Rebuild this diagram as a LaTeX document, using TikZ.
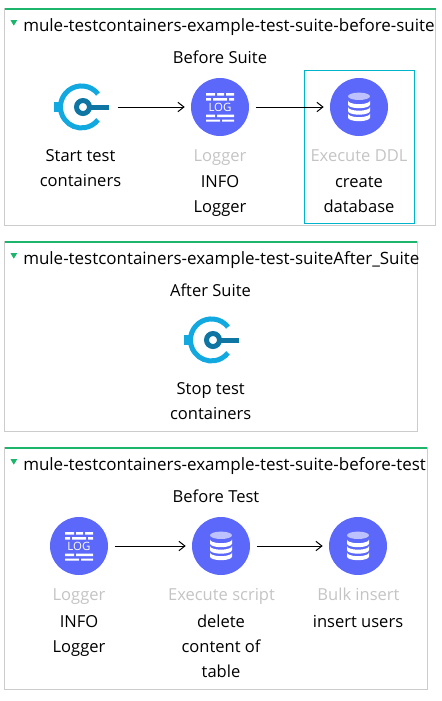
\documentclass[tikz,border=0pt]{standalone}
\usepackage{fontspec}
\setmainfont{Open Sans}
\usetikzlibrary{arrows.meta}
\definecolor{flowGreen}{HTML}{1DB56C}
\definecolor{flowGrey}{HTML}{CCCCCC}
\definecolor{flowCyan}{HTML}{00B4CC}
\definecolor{opBlue}{HTML}{5C68FA}
\definecolor{tcLight}{HTML}{12A8E0}
\definecolor{tcDark}{HTML}{0F76A3}
\definecolor{opGrey}{HTML}{C4C4C4}
\begin{document}
\begin{tikzpicture}
[x=0.75pt,y=-0.75pt,
  flowLine/.style={flowGrey,line width=0.75pt},
  flowTop/.style={flowGreen,line width=1.5pt},
  flowName/.style={anchor=base west,inner sep=0pt,font=\fontsize{12.72}{16}\selectfont},
  scopeName/.style={anchor=base,inner sep=0pt,font=\fontsize{12.4}{16}\selectfont},
  opName/.style={align=center,anchor=base,inner sep=0pt,font=\fontsize{12.4}{18.75}\selectfont},
  opType/.style={opName,text=opGrey},
  opCircle/.style={shape=circle,fill=opBlue,minimum size=43.5pt,inner sep=0pt},
  tcNode/.style={shape=circle,minimum size=44pt,inner sep=0pt},
  lineDecorate/.style={-{Straight Barb[length=4.5pt,width=7pt]},line width=0.75pt,shorten <=5pt,shorten >=4.5pt},
  tri/.style={fill=flowGreen,draw=none},
  logger/.pic={
    \fill[white] (-14,-14) rectangle (-5,-11.5) (-3,-14) rectangle (4,-11.5) (6,-14) rectangle (14,-11.5)
      (-14,-9) rectangle (-9,-6.5) (-7,-9) rectangle (7,-6.5) (9,-9) rectangle (14,-6.5)
      (-14,7.5) rectangle (-5,10) (-3,7.5) rectangle (14,10)
      (-14,12.5) rectangle (0,14.5) (2,12.5) rectangle (14,14.5);
    \node[white,inner sep=0pt,font=\fontsize{8.6}{9}\selectfont] at (0,0) {LOG};
  },
  database/.pic={
    \fill[white,opacity=0.6] (0,-10.7) ellipse (11 and 3.7);
    \foreach \bandy in {-6.5,0,6.5}
      \fill[white] (-11,\bandy) arc[start angle=180,end angle=0,x radius=11,y radius=3.7]
        -- (11,\bandy+4) arc[start angle=0,end angle=180,x radius=11,y radius=3.7] -- cycle;
  },
  containers/.pic={
    \draw[tcLight,line width=3.75pt] (16.5,-13) arc[start angle=-38,end angle=-322,radius=21];
    \fill[tcLight] (-27.5,-5) rectangle (-21,5);
    \draw[tcDark,line width=3.75pt] (1.5,0) circle (6.5);
    \fill[tcDark] (8,-2.5) rectangle (27,2.5);
  }]
\useasboundingbox (0,0) rectangle (442,701);
%% flows
\foreach \flowleft/\flowtop/\flowright/\flowbottom in {
  4.5/8.7/435.5/225.3,
  4.5/241.7/417.3/431,
  4.5/447.7/427.3/689.3}
{
  \draw[flowLine] (\flowleft,\flowtop) rectangle (\flowright,\flowbottom);
  \draw[flowTop] (\flowleft,\flowtop) -- (\flowright,\flowtop);
  \fill[tri] (\flowleft+6,\flowtop+11.5) -- (\flowleft+12.7,\flowtop+11.5) -- (\flowleft+9.3,\flowtop+17) -- cycle;
}
\node (nameA) at (23,31) [flowName] {mule-testcontainers-example-test-suite-before-suite};
\node (nameB) at (23,264) [flowName] {mule-testcontainers-example-test-suiteAfter\_Suite};
\node (nameC) at (23,470) [flowName] {mule-testcontainers-example-test-suite-before-test};
\node (scopeA) at (220,63) [scopeName] {Before Suite};
\node (scopeB) at (210.5,296) [scopeName] {After Suite};
\node (scopeC) at (216,502) [scopeName] {Before Test};
\draw[flowCyan,line width=0.75pt] (304.3,70.3) rectangle (414.3,223);
%% operations
\foreach \nodename/\x/\y/\shapestyle/\iconname in {
  startTc/81.5/107/tcNode/containers,
  logA/220/107/opCircle/logger,
  ddl/359/107/opCircle/database,
  stopTc/211.5/340/tcNode/containers,
  logB/79/546/opCircle/logger,
  script/221/546/opCircle/database,
  bulk/358/546/opCircle/database}
{
  \node (\nodename) at (\x,\y) [\shapestyle] {};
  \pic at (\x,\y) {\iconname};
}
%% labels
\foreach \nodename/\x/\y/\typetext in {
  typeA/220/161/Logger,
  typeB/359/161/Execute DDL,
  typeC/79/600/Logger,
  typeD/221.5/600/Execute script,
  typeE/358.5/600/Bulk insert}
{
  \node (\nodename) at (\x,\y) [opType] {\typetext};
}
\node (lblStart) at (80.5,186) [opName] {Start test\\containers};
\node (lblInfoA) at (220,212.5) [opName] {INFO\\Logger};
\node (lblDdl) at (359,212.5) [opName] {create\\database};
\node (lblStop) at (210.7,419) [opName] {Stop test\\containers};
\node (lblInfoB) at (79,652) [opName] {INFO\\Logger};
\node (lblScript) at (221,677) [opName] {delete\\content of\\table};
\node (lblBulk) at (358,627) [opName] {insert users};
%% connectors
\path
\foreach \startnode/\endnode in {
  startTc/logA, logA/ddl, logB/script, script/bulk}
{
  (\startnode) edge[lineDecorate,draw=black] (\endnode)
};
\end{tikzpicture}
\end{document}
